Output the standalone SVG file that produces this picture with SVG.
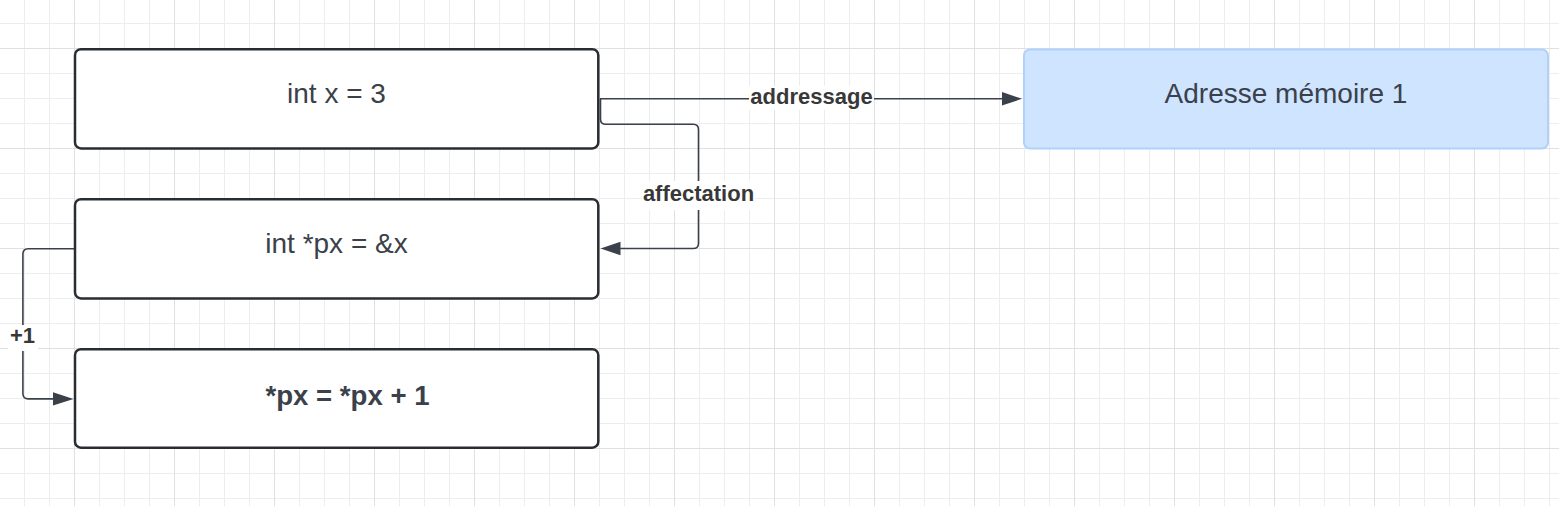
<svg xmlns="http://www.w3.org/2000/svg" width="1559" height="506" viewBox="0 0 1559 506">
  <style>
    .node { fill: #ffffff; stroke: #282c33; stroke-width: 2.5; }
    .blue { fill: #cfe4ff; stroke: #b0d1fb; stroke-width: 2; }
    .ntext { font-family: "Liberation Sans", Arial, sans-serif; font-size: 28px; fill: #3a414a; text-anchor: middle; }
    .bold { font-weight: bold; font-size: 27.6px; }
    .conn { fill: none; stroke: #3a414a; stroke-width: 1.6; }
    .head { fill: #3a414a; }
    .lbl { font-family: "Liberation Sans", Arial, sans-serif; font-size: 22px; font-weight: bold; fill: #383838; text-anchor: middle; }
    .lblbg { fill: #ffffff; }
  </style>
  <defs>
    <pattern id="grid" patternUnits="userSpaceOnUse" x="74" y="48" width="100" height="100">
      <rect x="0" y="0" width="100" height="100" fill="#ffffff"/>
      <rect x="25" y="0" width="1" height="100" fill="#ededed"/>
      <rect x="50" y="0" width="1" height="100" fill="#ededed"/>
      <rect x="75" y="0" width="1" height="100" fill="#ededed"/>
      <rect x="0" y="25" width="100" height="1" fill="#ededed"/>
      <rect x="0" y="50" width="100" height="1" fill="#ededed"/>
      <rect x="0" y="75" width="100" height="1" fill="#ededed"/>
      <rect x="0" y="0" width="1" height="100" fill="#e0e0e0"/>
      <rect x="0" y="0" width="100" height="1" fill="#e0e0e0"/>
    </pattern>
  </defs>
  <rect x="0" y="0" width="1559" height="506" fill="url(#grid)"/>

  <g id="connectors">
    <g id="c-addressage">
      <path class="conn" d="M 600 98.8 L 1004 98.8"/>
      <polygon class="head" points="1022,98.8 1002,92.1 1002,105.5"/>
      <rect class="lblbg" x="749" y="86" width="125" height="24"/>
      <text class="lbl" x="811.5" y="103.5">addressage</text>
    </g>
    <g id="c-affectation">
      <path class="conn" d="M 600.5 99 L 600.5 119 Q 600.5 124.3 605.8 124.3 L 693.2 124.3 Q 698.5 124.3 698.5 129.6 L 698.5 243.2 Q 698.5 248.5 693.2 248.5 L 619 248.5"/>
      <polygon class="head" points="600.5,248.5 620.5,241.8 620.5,255.2"/>
      <rect class="lblbg" x="642" y="181" width="113" height="29"/>
      <text class="lbl" x="698.5" y="201">affectation</text>
    </g>
    <g id="c-plus1">
      <path class="conn" d="M 74 248.8 L 28.2 248.8 Q 22.9 248.8 22.9 254.1 L 22.9 393.6 Q 22.9 398.9 28.2 398.9 L 54 398.9"/>
      <polygon class="head" points="73.5,398.9 53,392.2 53,405.6"/>
      <rect class="lblbg" x="8" y="325" width="30" height="26"/>
      <text class="lbl" x="22.5" y="343.3">+1</text>
    </g>
  </g>

  <g id="node-int-x">
    <rect class="node" x="75" y="49.2" width="523.3" height="99.2" rx="6" ry="6"/>
    <text class="ntext" x="336.5" y="103.4">int x = 3</text>
  </g>
  <g id="node-int-px">
    <rect class="node" x="75" y="199.2" width="523.3" height="99.2" rx="6" ry="6"/>
    <text class="ntext" x="336.5" y="253.4">int *px = &amp;x</text>
  </g>
  <g id="node-px-plus">
    <rect class="node" x="75" y="349.2" width="523.3" height="98.5" rx="6" ry="6"/>
    <text class="ntext bold" x="347.5" y="405">*px = *px + 1</text>
  </g>
  <g id="node-adresse">
    <rect class="blue" x="1024" y="49.5" width="524" height="99" rx="6" ry="6"/>
    <text class="ntext" x="1286" y="103.4">Adresse mémoire 1</text>
  </g>
</svg>
